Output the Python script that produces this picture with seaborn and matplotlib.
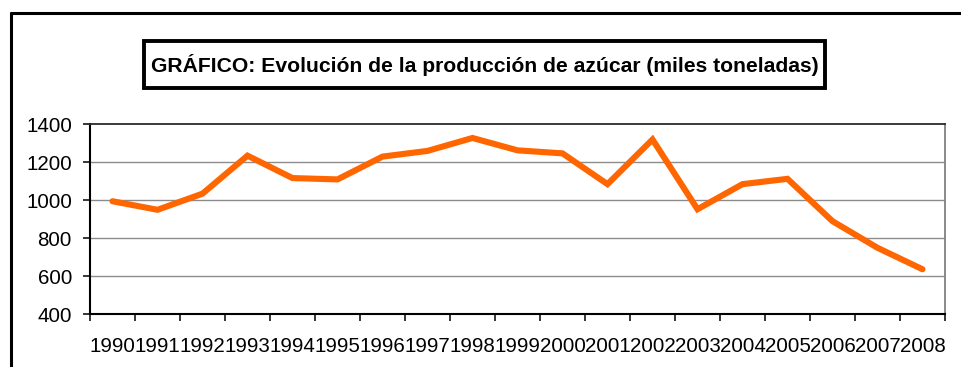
import matplotlib
matplotlib.use("Agg")
import matplotlib.pyplot as plt
from matplotlib.patches import Rectangle
from matplotlib.lines import Line2D
from matplotlib.ticker import FixedLocator
import seaborn as sns
import pandas as pd

# Sugar production, thousands of tonnes
years = ["1990", "1991", "1992", "1993", "1994", "1995", "1996", "1997", "1998", "1999",
         "2000", "2001", "2002", "2003", "2004", "2005", "2006", "2007", "2008"]
production = [995, 950, 1035, 1235, 1117, 1110, 1230, 1260, 1328, 1263,
              1247, 1085, 1320, 953, 1085, 1113, 890, 750, 637]
y_ticks = [400, 600, 800, 1000, 1200, 1400]
title = "GRÁFICO: Evolución de la producción de azúcar (miles toneladas)"

df = pd.DataFrame({"year": years, "production": production})

sns.set_theme(style="white")
plt.rcParams["font.family"] = ["Liberation Sans", "DejaVu Sans"]

W, H = 962, 367
fig = plt.figure(figsize=(W / 100, H / 100), dpi=100)
ax = fig.add_axes([90 / W, 1 - 314.3 / H, (945 - 90) / W, (314.3 - 124.3) / H])

sns.lineplot(data=df, x="year", y="production", ax=ax, color="#FF6600",
             linewidth=4.4, sort=False, solid_joinstyle="miter", solid_capstyle="round")

ax.set_xlim(-0.5, len(years) - 0.5)
ax.set_ylim(400, 1400)
ax.set_yticks(y_ticks)
ax.set_xlabel("")
ax.set_ylabel("")

# category labels at centres, tick marks on category boundaries
ax.set_xticks(range(len(years)))
ax.set_xticklabels(years)
ax.xaxis.set_minor_locator(FixedLocator([i - 0.5 for i in range(len(years) + 1)]))
ax.tick_params(axis="x", which="major", length=0, pad=16, labelsize=14.8, colors="black")
ax.tick_params(axis="x", which="minor", bottom=True, length=5, width=1.1, color="black", direction="out")
ax.tick_params(axis="y", which="major", left=True, length=5, width=1.1, color="black",
               direction="out", pad=8, labelsize=14.8, labelcolor="black")

ax.grid(False)
for v in y_ticks[1:-1]:
    ax.axhline(v, color="#8c8c8c", linewidth=1.0, zorder=0)

for side in ("left", "bottom"):
    ax.spines[side].set_color("black")
    ax.spines[side].set_linewidth(1.5)
ax.spines["top"].set_color("#2a2a2a")
ax.spines["top"].set_linewidth(1.3)
ax.spines["right"].set_color("#808080")
ax.spines["right"].set_linewidth(1.3)

# outer frame (top and left edges)
fig.add_artist(Line2D([11 / W, 11 / W], [0, 1 - 13 / H], transform=fig.transFigure,
                      color="black", linewidth=2.2))
fig.add_artist(Line2D([11 / W, 1], [1 - 13 / H, 1 - 13 / H], transform=fig.transFigure,
                      color="black", linewidth=2.2))

# boxed title
fig.add_artist(Rectangle((144 / W, 1 - 88 / H), (825 - 144) / W, (88 - 41) / H,
                         transform=fig.transFigure, fill=False, edgecolor="black", linewidth=2.8))
fig.text((144 + 825) / 2 / W, 1 - 65 / H, title, ha="center", va="center",
         fontsize=15.2, fontweight="bold", color="black")

fig.savefig("out.png", dpi=100)
